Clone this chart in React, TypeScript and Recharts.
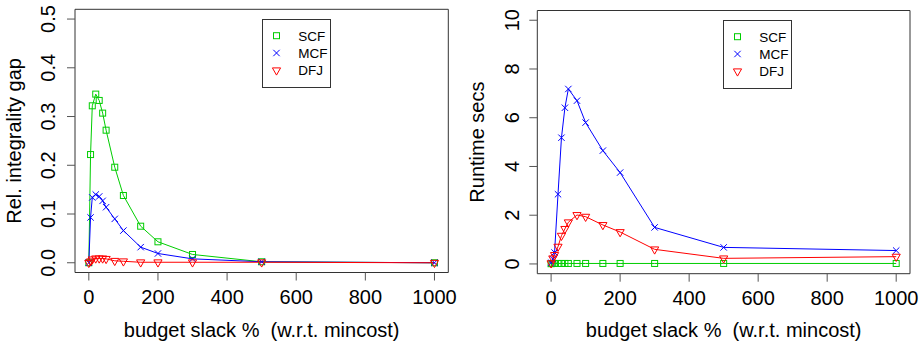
import React from 'react';
import { LineChart, Line, XAxis, YAxis, ReferenceArea, Legend, Label } from 'recharts';

const slack = [0, 5, 10, 20, 30, 40, 50, 75, 100, 150, 200, 300, 500, 1000];
const gapSCF = [0, 0.222, 0.322, 0.346, 0.333, 0.307, 0.272, 0.196, 0.138, 0.075, 0.043, 0.017, 0.002, 0];
const gapMCF = [0, 0.093, 0.134, 0.14, 0.136, 0.127, 0.114, 0.09, 0.066, 0.032, 0.019, 0.008, 0.002, 0];
const gapDFJ = [0, 0.003, 0.007, 0.009, 0.009, 0.009, 0.008, 0.004, 0.003, 0.001, 0.001, 0.001, 0.001, 0];
const timeSCF = [0.01, 0.02, 0.02, 0.02, 0.02, 0.02, 0.02, 0.02, 0.02, 0.02, 0.02, 0.02, 0.02, 0.02];
const timeMCF = [0.05, 0.2, 0.47, 2.86, 5.18, 6.41, 7.18, 6.7, 5.8, 4.65, 3.75, 1.5, 0.68, 0.55];
const timeDFJ = [0.03, 0.23, 0.37, 0.71, 1.16, 1.44, 1.71, 2.01, 1.94, 1.6, 1.31, 0.6, 0.23, 0.3];
const xTicks = [0, 200, 400, 600, 800, 1000];
const gapTicks = [0, 0.1, 0.2, 0.3, 0.4, 0.5];
const timeTicks = [0, 2, 4, 6, 8, 10];
const seriesNames = ['SCF', 'MCF', 'DFJ'];
const seriesColors = ['#00CD00', '#0000FF', '#FF0000'];
const xTitle = 'budget slack %  (w.r.t. mincost)';

const FONT = '"Liberation Sans", Arial, Helvetica, sans-serif';
const AXW = 30;

const buildRows = (a: number[], b: number[], c: number[]) =>
  slack.map((x, i) => ({ x, SCF: a[i], MCF: b[i], DFJ: c[i] }));

const Marker = ({ kind, cx, cy, color }: { kind: number; cx: number; cy: number; color: string }) => {
  if (kind === 0) {
    return <rect x={cx - 3} y={cy - 3} width={6} height={6} fill="none" stroke={color} strokeWidth={1} />;
  }
  if (kind === 1) {
    return (
      <path
        d={`M${cx - 3.2},${cy - 3.2}L${cx + 3.2},${cy + 3.2}M${cx - 3.2},${cy + 3.2}L${cx + 3.2},${cy - 3.2}`}
        stroke={color}
        strokeWidth={1}
        fill="none"
      />
    );
  }
  return (
    <path
      d={`M${cx - 4.1},${cy - 2.4}L${cx + 4.1},${cy - 2.4}L${cx},${cy + 4.8}Z`}
      stroke={color}
      strokeWidth={1}
      fill="none"
    />
  );
};

type PanelCfg = {
  left: number;
  rows: any[];
  margin: { top: number; right: number; bottom: number; left: number };
  yDomain: [number, number];
  yTicks: number[];
  yFmt: (v: number) => string;
  yTitle: string;
  yTickX: number;
  yTitleX: number;
  xTickY: number;
  xTitleY: number;
  legendLeft: number;
  legendTop: number;
};

const Panel = ({ cfg }: { cfg: PanelCfg }) => {
  const W = 462;
  const H = 346;
  const plotLeft = cfg.margin.left;
  const plotBottom = H - cfg.margin.bottom;
  const plotCx = plotLeft + (W - plotLeft - cfg.margin.right) / 2;
  const plotCy = cfg.margin.top + (plotBottom - cfg.margin.top) / 2;
  const margin = {
    top: cfg.margin.top,
    right: cfg.margin.right,
    bottom: cfg.margin.bottom - AXW,
    left: cfg.margin.left - AXW,
  };
  return (
    <div style={{ position: 'absolute', left: cfg.left, top: 0 }}>
      <LineChart width={W} height={H} data={cfg.rows} margin={margin}>
        <XAxis
          type="number"
          dataKey="x"
          domain={[-40, 1040]}
          ticks={xTicks}
          interval={0}
          allowDataOverflow
          height={AXW}
          axisLine={false}
          tickSize={8}
          tickLine={{ stroke: '#555', strokeWidth: 1 }}
          tick={(p: any) => (
            <text
              key={`xt${p.payload.value}`}
              x={p.x}
              y={cfg.xTickY}
              textAnchor="middle"
              fontSize={20}
              fontFamily={FONT}
              fill="#000"
            >
              {p.payload.value}
            </text>
          )}
        >
          <Label
            content={() => (
              <text
                x={plotCx}
                y={cfg.xTitleY}
                textAnchor="middle"
                fontSize={20}
                fontFamily={FONT}
                fill="#000"
                style={{ whiteSpace: 'pre' }}
                xmlSpace="preserve"
              >
                {xTitle}
              </text>
            )}
          />
        </XAxis>
        <YAxis
          type="number"
          domain={cfg.yDomain}
          ticks={cfg.yTicks}
          interval={0}
          allowDataOverflow
          width={AXW}
          axisLine={false}
          tickSize={8}
          tickLine={{ stroke: '#555', strokeWidth: 1 }}
          tick={(p: any) => (
            <text
              key={`yt${p.payload.value}`}
              x={cfg.yTickX}
              y={p.y}
              transform={`rotate(-90, ${cfg.yTickX}, ${p.y})`}
              textAnchor="middle"
              fontSize={20}
              fontFamily={FONT}
              fill="#000"
            >
              {cfg.yFmt(p.payload.value)}
            </text>
          )}
        >
          <Label
            content={() => (
              <text
                x={cfg.yTitleX}
                y={plotCy}
                transform={`rotate(-90, ${cfg.yTitleX}, ${plotCy})`}
                textAnchor="middle"
                fontSize={20}
                fontFamily={FONT}
                fill="#000"
              >
                {cfg.yTitle}
              </text>
            )}
          />
        </YAxis>
        <ReferenceArea
          x1={-40}
          x2={1040}
          y1={cfg.yDomain[0]}
          y2={cfg.yDomain[1]}
          fill="none"
          fillOpacity={0}
          stroke="#333"
          strokeWidth={1}
          strokeOpacity={1}
        />
        {seriesNames.map((name, k) => (
          <Line
            key={name}
            type="linear"
            dataKey={name}
            stroke={seriesColors[k]}
            strokeWidth={1}
            isAnimationActive={false}
            dot={(p: any) => (
              <Marker key={`${name}${p.index}`} kind={k} cx={p.cx} cy={p.cy} color={seriesColors[k]} />
            )}
            activeDot={false}
          />
        ))}
        <Legend
          layout="horizontal"
          verticalAlign="middle"
          align="center"
          wrapperStyle={{ left: cfg.legendLeft, top: cfg.legendTop, width: 70, height: 70 }}
          content={() => (
            <svg width={70} height={70} style={{ display: 'block' }}>
              <rect x={0.5} y={0.5} width={68} height={68} fill="#fff" stroke="#333" strokeWidth={1} />
              {seriesNames.map((name, k) => {
                const cy = 16.7 + k * 17.3;
                return (
                  <g key={name}>
                    <Marker kind={k} cx={14.5} cy={cy} color={seriesColors[k]} />
                    <text x={36.3} y={cy + 4.8} fontSize={13.5} fontFamily={FONT} fill="#000">
                      {name}
                    </text>
                  </g>
                );
              })}
            </svg>
          )}
        />
      </LineChart>
    </div>
  );
};

const leftCfg: PanelCfg = {
  left: 0,
  rows: buildRows(gapSCF, gapMCF, gapDFJ),
  margin: { top: 9.3, right: 462 - 448.3, bottom: 346 - 272.5, left: 75 },
  yDomain: [-0.02, 0.52],
  yTicks: gapTicks,
  yFmt: (v) => v.toFixed(1),
  yTitle: 'Rel. integrality gap',
  yTickX: 55,
  yTitleX: 21.3,
  xTickY: 304,
  xTitleY: 336.5,
  legendLeft: 262,
  legendTop: 19,
};

const rightCfg: PanelCfg = {
  left: 462,
  rows: buildRows(timeSCF, timeMCF, timeDFJ),
  margin: { top: 10.5, right: 924 - 910, bottom: 346 - 273.7, left: 537.3 - 462 },
  yDomain: [-0.4, 10.4],
  yTicks: timeTicks,
  yFmt: (v) => String(v),
  yTitle: 'Runtime secs',
  yTickX: 57,
  yTitleX: 22.5,
  xTickY: 304.5,
  xTitleY: 336.8,
  legendLeft: 261.3,
  legendTop: 20.3,
};

export default function App() {
  return (
    <div style={{ position: 'absolute', left: 0, top: 0, width: 924, height: 346, background: '#fff' }}>
      <Panel cfg={leftCfg} />
      <Panel cfg={rightCfg} />
    </div>
  );
}
